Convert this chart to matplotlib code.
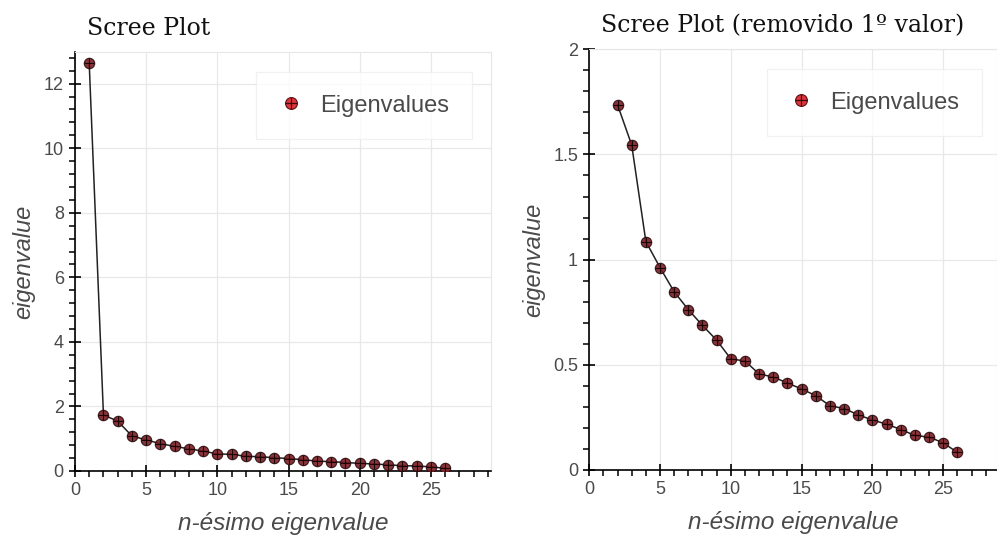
import matplotlib
matplotlib.use("Agg")
import matplotlib.pyplot as plt
from matplotlib.lines import Line2D
from matplotlib.ticker import MultipleLocator, AutoMinorLocator

plt.rcParams["font.family"] = ["Liberation Sans", "DejaVu Sans"]

# eigenvalues
n_idx = list(range(1, 27))
eigenvalues = [12.63, 1.736, 1.545, 1.086, 0.962, 0.847, 0.762, 0.687, 0.617, 0.528,
               0.518, 0.456, 0.442, 0.413, 0.385, 0.353, 0.305, 0.292, 0.262, 0.237,
               0.218, 0.192, 0.164, 0.156, 0.129, 0.083]

titles = ["Scree Plot", "Scree Plot (removido 1º valor)"]
x_label = "n-ésimo eigenvalue"
y_label = "eigenvalue"
legend_label = "Eigenvalues"

txt_gray = "#4a4a4a"
pt_fill = "#7b1e24"
leg_fill = "#e0343c"

fig = plt.figure(figsize=(9.97, 5.42), dpi=100)
ax1 = fig.add_axes([0.0752, 0.131, 0.417, 0.773])
ax2 = fig.add_axes([0.591, 0.133, 0.409, 0.776])


def draw_points(ax, xs, ys):
    ax.plot(xs, ys, color="#222222", lw=1.1, zorder=3)
    ax.plot(xs, ys, ls="none", marker="o", ms=7.5, mfc=pt_fill, mec="#2a0a0c",
            mew=0.8, alpha=0.9, zorder=4)
    ax.plot(xs, ys, ls="none", marker="+", ms=7, mec="#1a0506", mew=0.8, zorder=5)


def style(ax, title, ylim, xlim, ymajor, yminor_n, leg_anchor):
    ax.set_xlim(*xlim)
    ax.set_ylim(*ylim)
    for s in ["top", "right"]:
        ax.spines[s].set_color("#e6e6e6")
        ax.spines[s].set_linewidth(0.8)
    for s in ["left", "bottom"]:
        ax.spines[s].set_color("black")
        ax.spines[s].set_linewidth(1.2)
    ax.xaxis.set_major_locator(MultipleLocator(5))
    ax.xaxis.set_minor_locator(AutoMinorLocator(5))
    ax.yaxis.set_major_locator(MultipleLocator(ymajor))
    ax.yaxis.set_minor_locator(AutoMinorLocator(yminor_n))
    ax.tick_params(which="major", direction="inout", length=8, width=1.2,
                   labelsize=13, labelcolor=txt_gray, pad=4)
    ax.tick_params(which="minor", direction="out", length=4, width=1.1)
    ax.grid(True, which="major", color="#e8e8e8", lw=0.9)
    ax.set_axisbelow(True)
    ax.set_xlabel(x_label, fontsize=17.5, style="italic", color=txt_gray, labelpad=9)
    ax.set_ylabel(y_label, fontsize=17, style="italic", color=txt_gray, labelpad=6)
    ax.set_title(title, loc="left", fontsize=17, family="DejaVu Serif",
                 color="#111111", pad=12, x=0.03)
    handle = (Line2D([], [], ls="none", marker="o", ms=8.5, mfc=leg_fill, mec="#5a1014", mew=0.8),
              Line2D([], [], ls="none", marker="+", ms=8, mec="#3a0a0c", mew=0.9))
    leg = ax.legend([handle], [legend_label], loc="upper right",
                    bbox_to_anchor=leg_anchor, borderaxespad=0, fontsize=17,
                    frameon=True, borderpad=0.95, handlelength=1.0,
                    handletextpad=0.75, fancybox=False, labelcolor=txt_gray)
    leg.get_frame().set_edgecolor("#eeeeee")
    leg.get_frame().set_linewidth(0.9)


draw_points(ax1, n_idx, eigenvalues)
style(ax1, titles[0], (0, 12.98), (0, 29.2), 2, 5, (0.954, 0.952))
ax1.set_yticklabels(["" if v > 12.5 else f"{int(v)}" for v in ax1.get_yticks()])

draw_points(ax2, n_idx[1:], eigenvalues[1:])
style(ax2, titles[1], (0, 2.0), (0, 28.8), 0.5, 5, (0.963, 0.953))
ax2.yaxis.set_major_formatter(plt.FuncFormatter(lambda v, p: f"{v:g}"))

fig.savefig("out.png", dpi=100)
